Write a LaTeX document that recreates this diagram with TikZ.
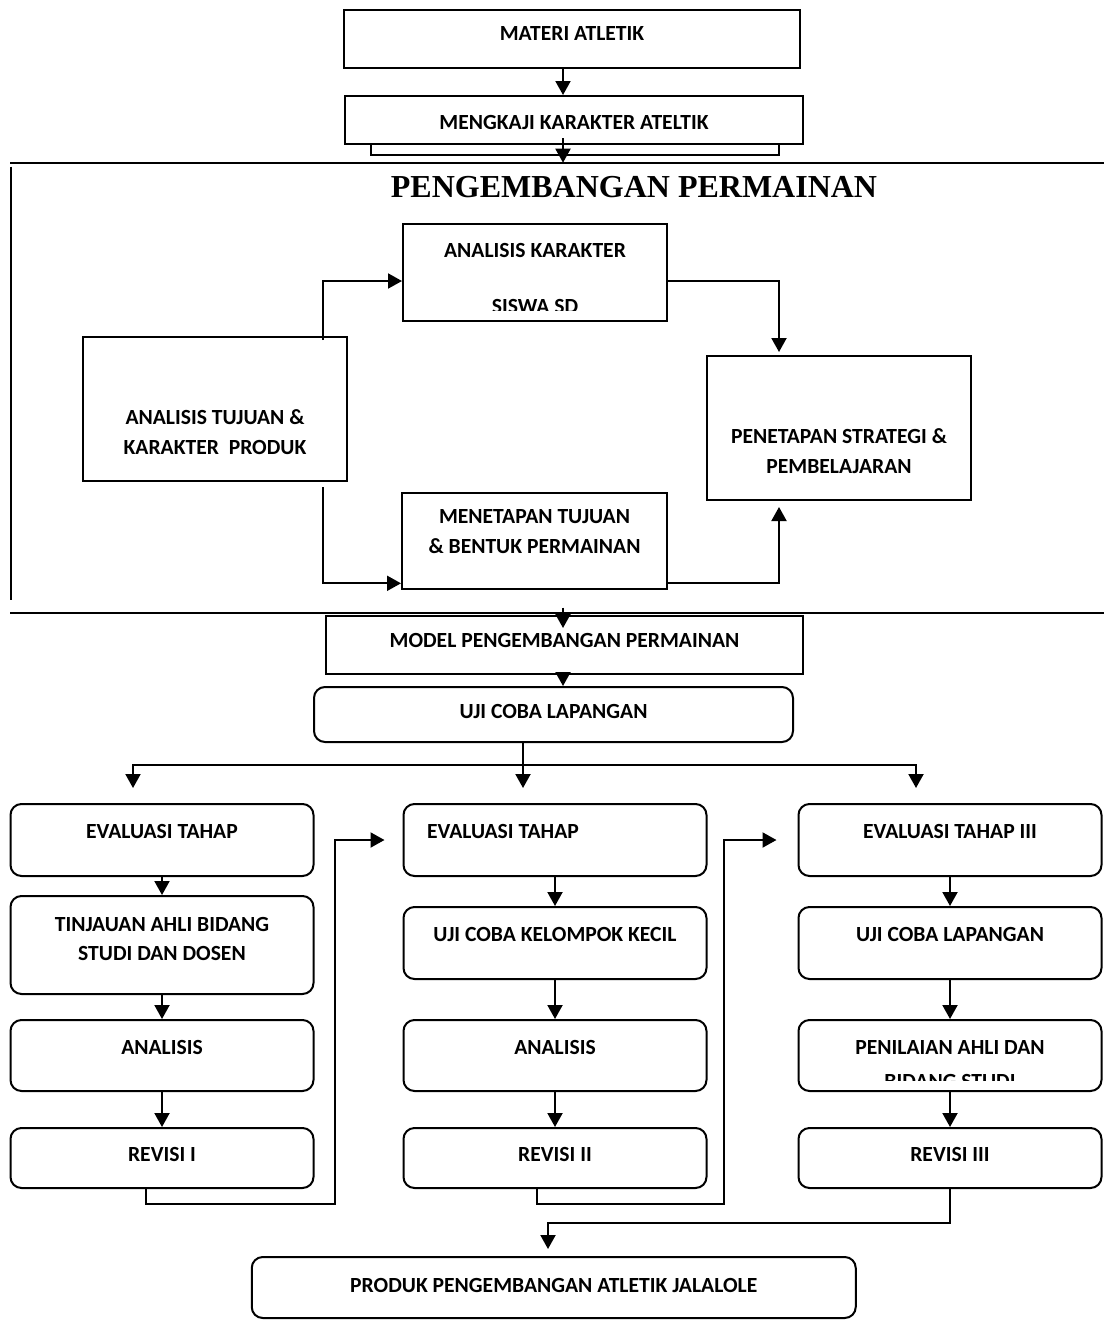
\documentclass[tikz,border=0pt]{standalone}
\usepackage{fontspec}
\setmainfont{Carlito}
\newfontfamily\headfont{Liberation Serif}
\usetikzlibrary{arrows.meta,positioning}

\begin{document}
\begin{tikzpicture}[
 x=1pt, y=-1pt,
 every label/.style={font=\bfseries\fontsize{21.6}{29.5}\selectfont,align=center,inner sep=0pt},
 plainbox/.style 2 args={draw,line width=2pt,fill=white,minimum width=#1,minimum height=#2,inner sep=0pt},
 roundbox/.style 2 args={plainbox={#1}{#2},rounded corners=11pt},
 cut/.style={font=\bfseries\fontsize{21.6}{29.5}\selectfont,inner sep=0pt},
 frame/.style={line width=2pt},
 arr/.style={-{Triangle[length=14pt,width=15pt]},line width=2pt}
]
\useasboundingbox (0,0) rectangle (1104,1323);

% top part
\node[plainbox={456pt}{58pt},label={[yshift=6pt]center:MATERI ATLETIK}] (mat) at (572,39) {};
\node[plainbox={408pt}{35pt}] (kajibg) at (575,137.5) {};
\node[plainbox={458pt}{48pt},label={[yshift=-2pt]center:MENGKAJI KARAKTER ATELTIK}] (kaji) at (574,120) {};

% frame of the game development block
\coordinate (ftl) at (10,162.7); \coordinate (ftr) at (1104,162.7);
\coordinate (fbl) at (10,612.7); \coordinate (fbr) at (1104,612.7);
\draw[frame] (ftl) -- (ftr);
\draw[frame] (fbl) -- (fbr);
\draw[frame] ([xshift=1pt,yshift=-4pt]ftl) -- ([xshift=1pt,yshift=12.7pt]fbl);

\node[font=\headfont\bfseries\fontsize{32}{38}\selectfont] (title) at (634,187) {PENGEMBANGAN PERMAINAN};

\node[plainbox={264pt}{97pt},label={[yshift=22.5pt]center:ANALISIS KARAKTER}] (ank) at (535,272.5) {};
\node[plainbox={264pt}{144pt},label={[yshift=-23.3pt]center:{ANALISIS TUJUAN \&\\KARAKTER\ \ PRODUK}}] (atj) at (215,409) {};
\node[plainbox={264pt}{144pt},label={[yshift=-23.2pt]center:{PENETAPAN STRATEGI \&\\PEMBELAJARAN}}] (pen) at (839,428) {};
\node[plainbox={265pt}{96pt},label={[yshift=9.3pt]center:{MENETAPAN TUJUAN\\\& BENTUK PERMAINAN}}] (men) at (534.5,541) {};
\begin{scope}
 \clip (ank.north west) rectangle ([yshift=11.7pt]ank.south east);
 \node[cut,anchor=north] (siswa) at ([yshift=22.7pt]ank.south) {SISWA SD};
\end{scope}

\coordinate (k1) at (322.7,281);
\coordinate (k2) at (779,281);
\coordinate (k3) at (322.7,583.3);
\coordinate (k4) at (779,583.3);
\draw[arr] ([yshift=-4pt]atj.north -| k1) -- (k1) -- (k1 -| ank.west);
\draw[arr,shorten >=3pt] (ank.east |- k2) -- (k2) -- (k2 |- pen.north);
\draw[arr] ([yshift=-5pt]atj.south -| k3) -- (k3) -- (k3 -| men.west);
\draw[arr,shorten >=6pt] (men.east |- k4) -- (k4) -- (k4 |- pen.south);

% model and trial
\node[plainbox={477pt}{58pt},label={[yshift=5pt]center:MODEL PENGEMBANGAN PERMAINAN}] (mod) at (564.5,645) {};
\node[roundbox={479pt}{55pt},label={[yshift=2.8pt]center:UJI COBA LAPANGAN}] (uji) at (553.5,714.5) {};

\coordinate (ax) at (563,0);
\draw[arr] (mat.south -| ax) -- (kaji.north -| ax);
\draw[arr] ([yshift=7pt]kaji.south -| ax) -- (ftl -| ax);
\draw[arr] ([yshift=5pt]fbl -| ax) -- ([yshift=-13pt]mod.north -| ax);
\draw[arr] (mod.south -| ax) -- (uji.north -| ax);

% three evaluation stages
\node[roundbox={303pt}{72pt},label={[yshift=8.3pt]center:EVALUASI TAHAP}] (e1) at (162,840) {};
\node[roundbox={303pt}{98pt},below=18pt of e1,label={[yshift=5.8pt]center:{TINJAUAN AHLI BIDANG\\STUDI DAN DOSEN}}] (t1) {};
\node[roundbox={303pt}{71pt},below=24pt of t1,label={[yshift=8.2pt]center:ANALISIS}] (a1) {};
\node[roundbox={303pt}{60pt},below=35pt of a1,label={[yshift=3.7pt]center:REVISI I}] (r1) {};

\node[roundbox={303pt}{72pt},right=88pt of e1,label={[yshift=8.3pt,xshift=-52pt]center:EVALUASI TAHAP}] (e2) {};
\node[roundbox={303pt}{72pt},below=29pt of e2,label={[yshift=8.3pt]center:UJI COBA KELOMPOK KECIL}] (k2b) {};
\node[roundbox={303pt}{71pt},below=39pt of k2b,label={[yshift=8.2pt]center:ANALISIS}] (a2) {};
\node[roundbox={303pt}{60pt},below=35pt of a2,label={[yshift=3.7pt]center:REVISI II}] (r2) {};

\node[roundbox={303pt}{72pt},right=90pt of e2,label={[yshift=8.3pt]center:EVALUASI TAHAP III}] (e3) {};
\node[roundbox={303pt}{72pt},below=29pt of e3,label={[yshift=8.3pt]center:UJI COBA LAPANGAN}] (u3) {};
\node[roundbox={303pt}{71pt},below=39pt of u3,label={[yshift=8.2pt]center:PENILAIAN AHLI DAN}] (p3) {};
\node[roundbox={303pt}{60pt},below=35pt of p3,label={[yshift=3.7pt]center:REVISI III}] (r3) {};
\begin{scope}
 \clip (p3.north west) rectangle ([yshift=11.7pt]p3.south east);
 \node[cut,anchor=north] (bidang) at ([yshift=18.3pt]p3.south) {BIDANG STUDI};
\end{scope}

\node[roundbox={604pt}{61pt},label={[yshift=2.5pt]center:PRODUK PENGEMBANGAN ATLETIK JALALOLE}] (prod) at (553.75,1287.5) {};

\coordinate (split) at (523,765);
\coordinate (d1) at (133,788); \coordinate (d2) at (523,788); \coordinate (d3) at (916,788);
\draw[arr] (uji.south -| split) -- (d2);
\draw[arr] (split) -| (d1);
\draw[arr] (split) -| (d3);

\draw[arr] (e1) -- (t1); \draw[arr] (t1) -- (a1); \draw[arr] (a1) -- (r1);
\draw[arr] (e2) -- (k2b); \draw[arr] (k2b) -- (a2); \draw[arr] (a2) -- (r2);
\draw[arr] (e3) -- (u3); \draw[arr] (u3) -- (p3); \draw[arr] (p3) -- (r3);

\coordinate (j1) at (335,1204); \coordinate (j2) at (724,1204); \coordinate (j3) at (548,1222.7);
\draw[arr,shorten >=18pt] ([xshift=-16.3pt]r1.south) |- (j1) |- (e2.west);
\draw[arr,shorten >=21pt] ([xshift=-18.4pt]r2.south) |- (j2) |- (e3.west);
\draw[arr,shorten >=7pt] (r3.south) |- (j3) -- (j3 |- prod.north);
\end{tikzpicture}
\end{document}
